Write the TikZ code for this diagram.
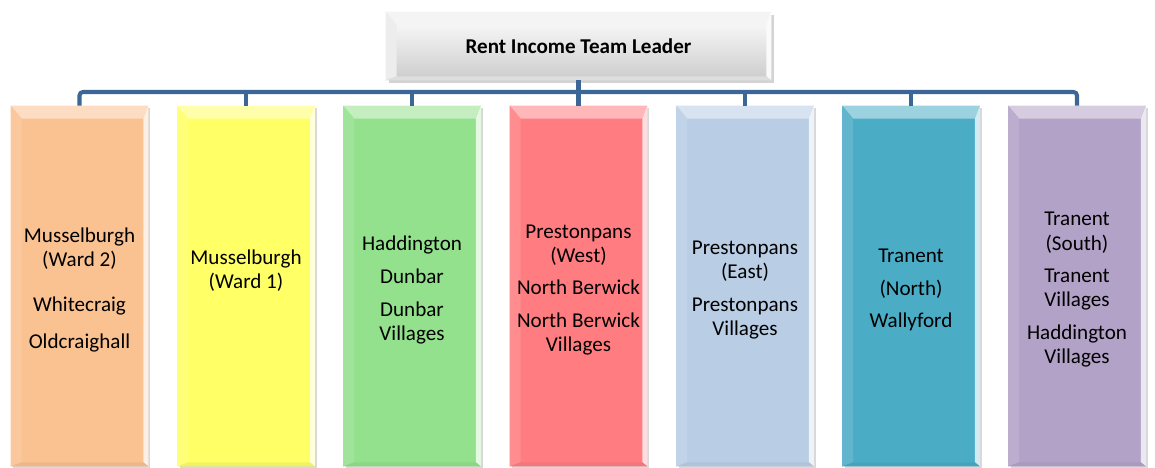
\documentclass[tikz,border=0pt]{standalone}
\usepackage{fontspec}
\setmainfont{Carlito}
\usetikzlibrary{shadows}

\definecolor{linkblue}{HTML}{3C6695}
\definecolor{leadgray}{HTML}{EAEAEA}
\definecolor{orng}{HTML}{FAC191}
\definecolor{yllw}{HTML}{FFFF66}
\definecolor{grn}{HTML}{93E18D}
\definecolor{rd}{HTML}{FF7C80}
\definecolor{ltblue}{HTML}{B9CDE5}
\definecolor{tl}{HTML}{4BACC6}
\definecolor{purp}{HTML}{B3A2C7}

\tikzset{
    unit/.style={minimum width=2.74cm, minimum height=7.2cm, inner sep=0pt,
        drop shadow={opacity=0.3, shadow xshift=1.3pt, shadow yshift=-1.3pt}},
    leader/.style={minimum width=7.7cm, minimum height=1.36cm, inner sep=0pt,
        top color=white, bottom color=black!20,
        drop shadow={opacity=0.35, shadow xshift=1.5pt, shadow yshift=-1.5pt}},
    label/.style={align=center, font=\fontsize{12}{13.7}\selectfont},
    link/.style={draw=linkblue, line width=2.3pt},
}

% bevelled edges over a filled node: #1 node, #2 colour
\newcommand\bevel[2]{%
    \fill[#2!55!white] (#1.north west) -- (#1.north east)
        -- ([shift={(-0.1,-0.26)}]#1.north east) -- ([shift={(0.22,-0.26)}]#1.north west) -- cycle;
    \fill[#2!88!white] (#1.north west) -- ([shift={(0.22,-0.26)}]#1.north west)
        -- ([shift={(0.22,0.08)}]#1.south west) -- (#1.south west) -- cycle;
    \fill[#2!25!white] (#1.north east) -- (#1.south east)
        -- ([shift={(-0.1,0.08)}]#1.south east) -- ([shift={(-0.1,-0.26)}]#1.north east) -- cycle;
    \fill[#2!95!black] (#1.south west) -- ([shift={(0.22,0.08)}]#1.south west)
        -- ([shift={(-0.1,0.08)}]#1.south east) -- (#1.south east) -- cycle;
}

\begin{document}
\begin{tikzpicture}
    \useasboundingbox (0,0) rectangle (23.1,9.36);

    % team leader at the top
    \node[leader] (lead) at (11.57,8.44) {};
    \bevel{lead}{leadgray}
    \node[label, font=\fontsize{12}{13.7}\selectfont\bfseries] (leadtxt) at (lead) {Rent Income Team Leader};

    % the seven patches
    \foreach \i/\x/\col/\txt in {
        1/1.59/orng/{Musselburgh\\(Ward 2)\\[12pt]Whitecraig\\[7pt]Oldcraighall},
        2/4.92/yllw/{Musselburgh\\(Ward 1)\\[9.5pt]\mbox{}},
        3/8.24/grn/{Haddington\\[5pt]Dunbar\\[5pt]Dunbar\\Villages},
        4/11.57/rd/{Prestonpans\\(West)\\[5pt]North Berwick\\[5pt]North Berwick\\Villages},
        5/14.90/ltblue/{Prestonpans\\(East)\\[5pt]Prestonpans\\Villages},
        6/18.22/tl/{Tranent\\[5pt](North)\\[5pt]Wallyford},
        7/21.54/purp/{Tranent\\(South)\\[5pt]Tranent\\Villages\\[5pt]Haddington\\Villages}} {
        \node[unit, fill=\col] (b\i) at (\x,3.64) {};
        \bevel{b\i}{\col}
        \node[label] (t\i) at ([yshift=-0.08cm]b\i.center) {\txt};
    }

    % connectors
    \coordinate (bus) at (0,7.52);
    \draw[link, rounded corners=2pt] (b1.north) -- (b1.north |- bus) -- (b7.north |- bus) -- (b7.north);
    \foreach \i in {2,...,6}
        \draw[link] (b\i.north) -- (b\i.north |- bus);
    \draw[link] (lead.south) -- (b4.north);
\end{tikzpicture}
\end{document}
